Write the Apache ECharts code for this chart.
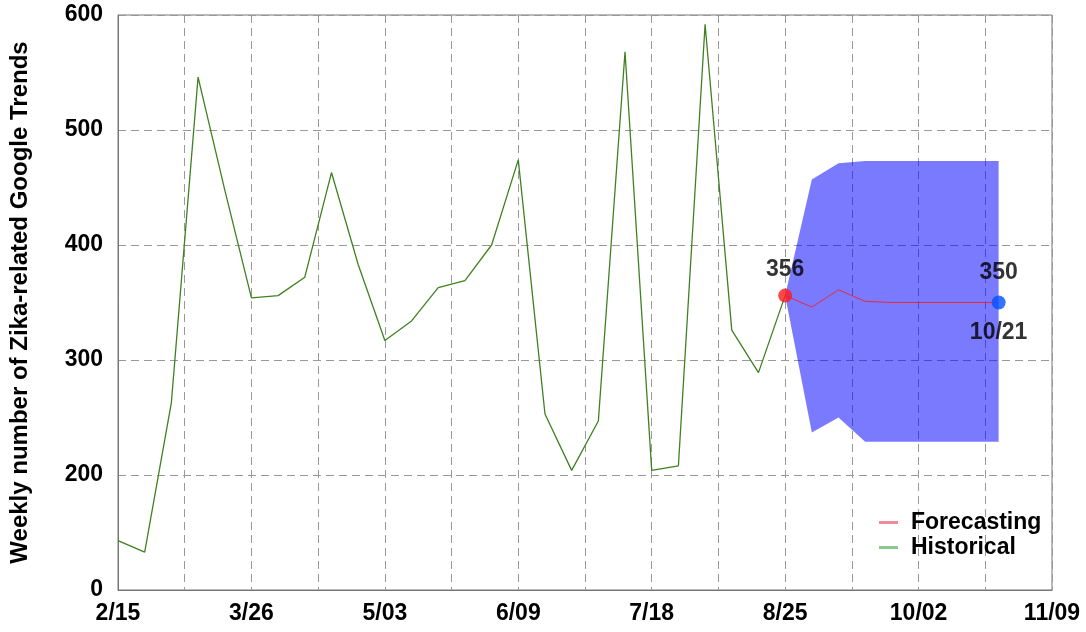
<!DOCTYPE html>
<html>
<head>
<meta charset="utf-8">
<script src="https://cdn.jsdelivr.net/npm/echarts@6/dist/echarts.min.js"></script>
<style>
  html, body { margin: 0; padding: 0; background: #fff; }
  #zikaChart { width: 1086px; height: 632px; }
</style>
</head>
<body>
<div id="zikaChart"></div>
<script>
  // week labels every 5 weeks, starting 2/15
  var xTickLabels = ['2/15', '3/26', '5/03', '6/09', '7/18', '8/25', '10/02', '11/09'];
  // y ticks, bottom one printed as "0" in the original
  var yTickValues = [100, 200, 300, 400, 500, 600];
  var yTickLabels = ['0', '200', '300', '400', '500', '600'];

  // weekly historical values, week 0 .. 25
  var histValues = [143, 133, 263, 546, 448, 354, 356, 372, 463, 383, 317, 334, 363,
    369, 400, 474, 253, 204, 247, 568, 204, 208, 592, 326, 289, 356];

  // forecast from week 25 .. 33
  var forecastStart = 25;
  var forecastValues = [356, 346, 361, 351, 350, 350, 350, 350, 350];
  var bandLower = [356, 237, 250, 229, 229, 229, 229, 229, 229];
  var bandUpper = [356, 457, 471, 473, 473, 473, 473, 473, 473];
  var forecastEndDate = '10/21';

  var font = 'Liberation Sans, Arial, Helvetica, sans-serif';
  var chart = echarts.init(document.getElementById('zikaChart'));

  var histData = histValues.map(function (v, i) { return [i, v]; });
  var foreData = forecastValues.map(function (v, i) { return [forecastStart + i, v]; });
  var lastIdx = forecastValues.length - 1;

  // confidence band as one polygon: upper edge forward, lower edge back
  function renderBand(params, api) {
    var pts = [];
    var i;
    for (i = 0; i < bandUpper.length; i++) {
      pts.push(api.coord([forecastStart + i, bandUpper[i]]));
    }
    for (i = bandLower.length - 1; i >= 0; i--) {
      pts.push(api.coord([forecastStart + i, bandLower[i]]));
    }
    return {
      type: 'polygon',
      shape: { points: pts },
      style: { fill: 'rgba(0,0,255,0.52)' },
      silent: true
    };
  }

  var option = {
    animation: false,
    textStyle: { fontFamily: font },
    grid: {
      left: 118, right: 34, top: 15, bottom: 42,
      show: true, borderColor: '#777', borderWidth: 1
    },
    legend: {
      orient: 'vertical',
      left: 879,
      top: 511,
      padding: 0,
      itemGap: 2,
      itemWidth: 19,
      itemHeight: 3,
      icon: 'rect',
      selectedMode: false,
      textStyle: { fontSize: 23, fontWeight: 'bold', color: '#000', fontFamily: font, padding: [0, 0, 0, 8] },
      data: [
        { name: 'Forecasting', itemStyle: { color: '#f08c9a' } },
        { name: 'Historical', itemStyle: { color: '#8cc88c' } }
      ]
    },
    xAxis: {
      type: 'value',
      min: 0,
      max: 35,
      interval: 2.5,
      axisLine: { show: true, lineStyle: { color: '#777' } },
      axisTick: { show: false },
      axisLabel: {
        margin: 12,
        fontSize: 23,
        fontWeight: 'bold',
        color: '#000',
        showMaxLabel: true,
        formatter: function (v) {
          return v % 5 === 0 ? xTickLabels[v / 5] : '';
        }
      },
      splitLine: { show: true, lineStyle: { color: '#999', type: [8, 5], width: 1 } }
    },
    yAxis: {
      type: 'value',
      min: 100,
      max: 600,
      interval: 100,
      name: 'Weekly number of Zika-related Google Trends',
      nameLocation: 'middle',
      nameGap: 86,
      nameTextStyle: { fontSize: 24, fontWeight: 'bold', color: '#000' },
      axisLine: { show: true, lineStyle: { color: '#777' } },
      axisTick: { show: false },
      axisLabel: {
        margin: 15,
        fontSize: 23,
        fontWeight: 'bold',
        color: '#000',
        formatter: function (v) {
          var k = yTickValues.indexOf(v);
          return k >= 0 ? yTickLabels[k] : '';
        }
      },
      splitLine: { show: true, lineStyle: { color: '#999', type: [8, 5], width: 1 } }
    },
    series: [
      {
        name: 'band',
        type: 'custom',
        renderItem: renderBand,
        data: [[forecastStart, bandUpper[0]]],
        silent: true,
        z: 1
      },
      {
        name: 'Historical',
        type: 'line',
        data: histData,
        symbol: 'none',
        lineStyle: { color: '#3f8120', width: 1.3 },
        z: 5
      },
      {
        name: 'Forecasting',
        type: 'line',
        data: foreData,
        symbol: 'none',
        lineStyle: { color: '#e8283c', width: 1 },
        z: 6
      },
      {
        name: 'start',
        type: 'scatter',
        data: [foreData[0]],
        symbolSize: 14,
        itemStyle: { color: '#ff1a1a' },
        label: {
          show: true,
          position: 'top',
          distance: 7,
          fontSize: 23,
          fontWeight: 'bold',
          color: '#000',
          textBorderWidth: 0,
          formatter: function (p) { return p.value[1]; }
        },
        z: 7
      },
      {
        name: 'end',
        type: 'scatter',
        data: [foreData[lastIdx]],
        symbolSize: 14,
        itemStyle: { color: '#0050ff' },
        label: {
          show: true,
          position: 'inside',
          fontSize: 23,
          fontWeight: 'bold',
          color: '#000',
          textBorderWidth: 0,
          lineHeight: 30,
          formatter: function (p) { return p.value[1] + '\n\n' + forecastEndDate; }
        },
        z: 7
      }
    ]
  };

  chart.setOption(option);
</script>
</body>
</html>
